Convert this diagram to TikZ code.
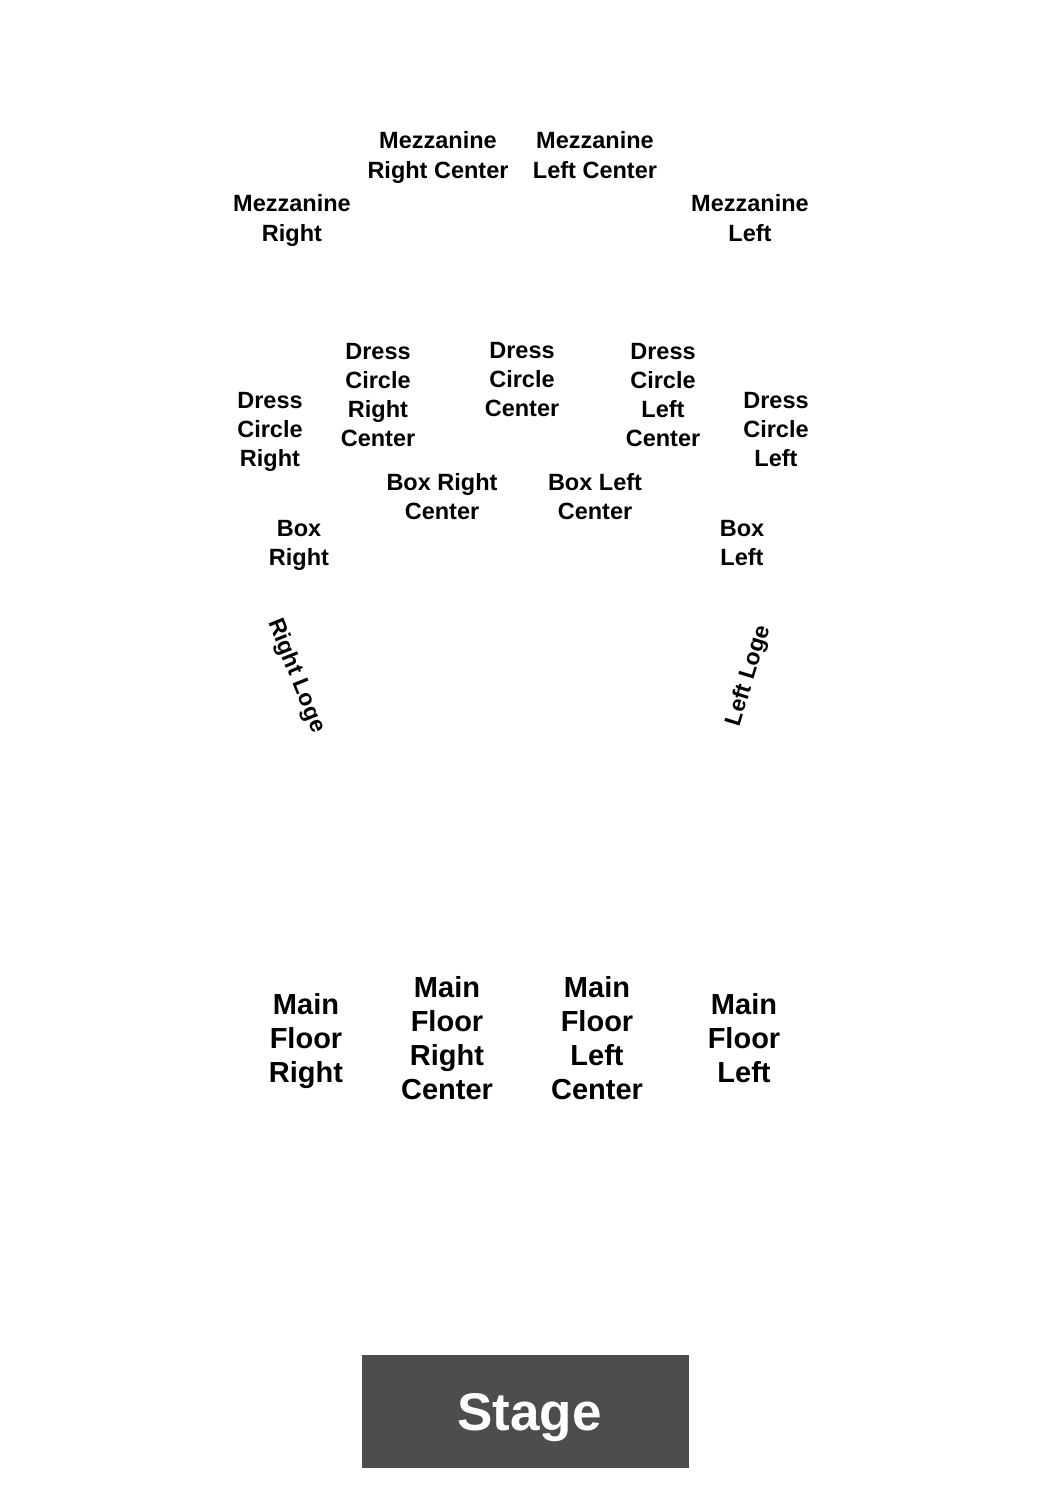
\documentclass[tikz,border=0pt]{standalone}
\usepackage{fontspec}
\setmainfont{Liberation Sans}
\begin{document}
\begin{tikzpicture}[x=1pt, y=-1pt,
        section/.style={font=\fontsize{23.5}{29}\selectfont\bfseries, align=center, inner sep=0pt, text depth=0pt},
        mezz/.style={section, font=\fontsize{23.5}{30}\selectfont\bfseries},
        floor/.style={section, font=\fontsize{29}{34}\selectfont\bfseries},
        loge/.style={font=\fontsize{23}{26}\selectfont\bfseries, inner sep=0pt}]
    \useasboundingbox (0, 0) rectangle (1050, 1500);
    % mezzanine
    \node (mezzRC) at (438, 155) [mezz] {Mezzanine\\Right Center};
    \node (mezzLC) at (595, 155) [mezz] {Mezzanine\\Left Center};
    \node (mezzR) at (292, 218) [mezz] {Mezzanine\\Right};
    \node (mezzL) at (750, 218) [mezz] {Mezzanine\\Left};
    % dress circle
    \node (dressR) at (270, 429.5) [section] {Dress\\Circle\\Right};
    \node (dressRC) at (378, 395) [section] {Dress\\Circle\\Right\\Center};
    \node (dressC) at (522, 379) [section] {Dress\\Circle\\Center};
    \node (dressLC) at (663, 395) [section] {Dress\\Circle\\Left\\Center};
    \node (dressL) at (776, 429.5) [section] {Dress\\Circle\\Left};
    % boxes
    \node (boxRC) at (442, 496.5) [section] {Box Right\\Center};
    \node (boxLC) at (595, 496.5) [section] {Box Left\\Center};
    \node (boxR) at (299, 542.5) [section] {Box\\Right};
    \node (boxL) at (742, 542.5) [section] {Box\\Left};
    % loges
    \node (logeR) at (296, 676) [loge, rotate=-68] {Right Loge};
    \node (logeL) at (749, 676) [loge, rotate=73] {Left Loge};
    % main floor
    \node (floorR) at (306, 1038) [floor] {Main\\Floor\\Right};
    \node (floorRC) at (447, 1037.5) [floor] {Main\\Floor\\Right\\Center};
    \node (floorLC) at (597, 1037.5) [floor] {Main\\Floor\\Left\\Center};
    \node (floorL) at (744, 1038) [floor] {Main\\Floor\\Left};
    % stage
    \node (stage) at (525.5, 1411.5) [fill={rgb,255:red,77;green,77;blue,77}, text=white, minimum width=327, minimum height=113, text depth=0pt, font=\fontsize{53}{60}\selectfont\bfseries] {\hspace{8pt}Stage};
\end{tikzpicture}
\end{document}
